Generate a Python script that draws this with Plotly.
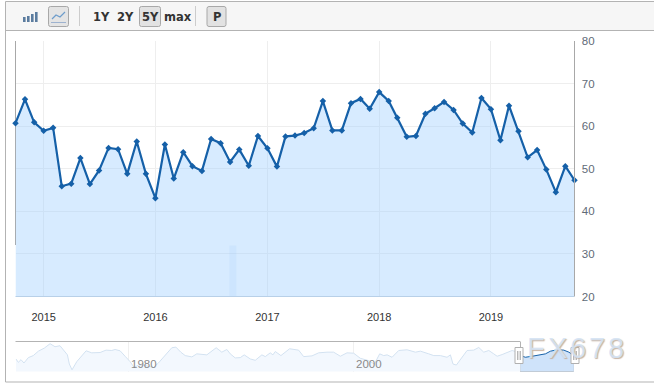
import plotly.graph_objects as go
import pandas as pd

W, H = 654, 383

dates = pd.date_range("2014-10-01", "2019-10-01", freq="MS").strftime("%Y-%m-%d").tolist()
values = [60.7, 66.3, 60.9, 58.9, 59.6, 45.9, 46.5, 52.5, 46.4, 49.6, 54.9, 54.6, 48.8,
          56.4, 48.8, 43.1, 55.7, 47.7, 53.9, 50.6, 49.5, 57.0, 56.0, 51.6, 54.5, 50.7,
          57.7, 54.8, 50.5, 57.6, 57.8, 58.4, 59.5, 65.9, 59.0, 59.0, 65.4, 66.4, 64.1,
          68.0, 65.9, 62.0, 57.5, 57.7, 62.9, 64.2, 65.7, 63.8, 60.6, 58.5, 66.6, 64.0,
          56.7, 64.8, 58.8, 52.7, 54.4, 49.8, 44.5, 50.6, 47.3]

year_labels = ["2015", "2016", "2017", "2018", "2019"]
year_ticks = ["2015-01-01", "2016-01-01", "2017-01-01", "2018-01-01", "2019-01-01"]
y_ticks = [20, 30, 40, 50, 60, 70, 80]

nav_years = [1970.04, 1970.25, 1970.49, 1970.75, 1971.14, 1971.58, 1972.03, 1972.56, 1973.07, 1973.51,
             1973.95, 1974.31, 1974.61, 1974.78, 1975.02, 1975.44, 1975.88, 1976.27, 1976.77, 1977.51,
             1978.04, 1978.55, 1978.84, 1979.29, 1979.73, 1980.18, 1980.53, 1980.92, 1981.36, 1981.81,
             1982.25, 1982.69, 1983.29, 1983.88, 1984.24, 1984.68, 1985.07, 1985.66, 1986.10, 1986.99,
             1987.82, 1988.32, 1988.77, 1989.07, 1989.51, 1989.96, 1990.31, 1990.85, 1991.29, 1991.88,
             1992.18, 1992.62, 1992.86, 1993.07, 1993.57, 1994.34, 1995.14, 1995.59, 1996.33, 1996.92,
             1997.66, 1998.25, 1998.85, 1999.44, 2000.03, 2000.62, 2001.37, 2001.87, 2002.34, 2002.70,
             2003.00, 2003.44, 2004.03, 2004.77, 2005.51, 2005.96, 2006.70, 2007.14, 2007.73, 2008.32,
             2008.62, 2008.85, 2009.15, 2009.65, 2010.10, 2010.69, 2011.14, 2011.58, 2012.03, 2012.47,
             2012.77, 2013.21, 2013.80, 2014.10, 2014.40, 2014.84]
nav_values = [44.7, 38.0, 43.3, 36.7, 47.3, 51.3, 60.0, 66.0, 74.7, 68.7,
              70.7, 61.3, 52.7, 34.7, 23.3, 39.3, 51.3, 60.7, 56.7, 57.3,
              62.0, 61.3, 63.3, 60.7, 50.0, 39.3, 28.0, 32.7, 32.7, 30.0,
              28.0, 36.7, 51.3, 66.7, 68.0, 58.0, 51.3, 48.7, 54.7, 52.7,
              66.7, 58.0, 63.3, 54.7, 46.7, 47.3, 52.7, 44.7, 42.0, 52.7,
              49.3, 56.7, 52.7, 59.3, 51.3, 64.7, 62.0, 49.3, 50.7, 56.7,
              58.0, 58.0, 50.0, 56.7, 56.0, 46.0, 41.3, 34.7, 54.7, 51.3,
              52.7, 48.0, 61.3, 62.7, 58.0, 60.0, 54.7, 51.3, 51.3, 48.0,
              52.7, 34.7, 32.7, 48.0, 61.3, 62.0, 67.3, 58.0, 61.3, 54.7,
              50.0, 53.3, 58.0, 61.3, 59.3, 51.3]
sel_years = [2014.84, 2015.28, 2015.88, 2016.47, 2017.06, 2017.51, 2018.10, 2018.69, 2019.14, 2019.58]
sel_values = [51.3, 48.0, 50.0, 52.7, 54.7, 60.0, 62.7, 62.0, 58.0, 51.3]
nav_labels = [1980, 2000]
range_buttons = ["1Y", "2Y", "5Y", "max", "P"]
watermark = "FX678"

FONT = "Liberation Sans"
BTN = "DejaVu Sans"


def px(x):
    return x / W


def py(y):
    return 1 - y / H


shapes = []


def rect(x0, y0, x1, y1, fill="rgba(0,0,0,0)", line="rgba(0,0,0,0)", lw=1, layer="below", radius=0):
    if radius:
        r = radius
        path = (f"M{px(x0 + r)},{py(y0)} L{px(x1 - r)},{py(y0)} Q{px(x1)},{py(y0)} {px(x1)},{py(y0 + r)} "
                f"L{px(x1)},{py(y1 - r)} Q{px(x1)},{py(y1)} {px(x1 - r)},{py(y1)} "
                f"L{px(x0 + r)},{py(y1)} Q{px(x0)},{py(y1)} {px(x0)},{py(y1 - r)} "
                f"L{px(x0)},{py(y0 + r)} Q{px(x0)},{py(y0)} {px(x0 + r)},{py(y0)} Z")
        shapes.append(dict(type="path", xref="paper", yref="paper", path=path, fillcolor=fill,
                           line=dict(color=line, width=lw), layer=layer))
    else:
        shapes.append(dict(type="rect", xref="paper", yref="paper", x0=px(x0), x1=px(x1), y0=py(y0), y1=py(y1),
                           fillcolor=fill, line=dict(color=line, width=lw), layer=layer))


def hline(x0, y0, x1, y1, color="#b3b3b3", lw=1, layer="below"):
    shapes.append(dict(type="line", xref="paper", yref="paper", x0=px(x0), x1=px(x1), y0=py(y0), y1=py(y1),
                       line=dict(color=color, width=lw), layer=layer))


# frame and toolbar
rect(5.5, 1.5, 670, 382, line="#b3b3b3", lw=1)
rect(6, 2, 670, 30, fill="#f6f6f6")
hline(5.5, 30.5, 670, 30.5)
# toolbar buttons
rect(48.5, 6.5, 68.5, 26.5, fill="#e4e4e4", line="#a8a8a8", radius=2)
rect(139.5, 6.5, 160.5, 26.5, fill="#e2e2e2", line="#a8a8a8", radius=2)
rect(207, 6.5, 226, 26.5, fill="#e2e2e2", line="#a8a8a8", radius=2)
hline(79.5, 6, 79.5, 26, "#cccccc")
hline(195.5, 6, 195.5, 26, "#cccccc")
# bar icon
for bx, by in [(23, 17), (27, 16), (31, 14), (35, 12)]:
    rect(bx, by, bx + 2.6, 22, fill="#5b7c9f")
# line icon
hline(51, 22.5, 66, 22.5, "#9db2cf", 1)
shapes.append(dict(type="path", xref="paper", yref="paper",
                   path=f"M{px(52)},{py(19)} L{px(56)},{py(15)} L{px(60)},{py(17)} L{px(65)},{py(12)}",
                   line=dict(color="#6d9ccb", width=1.2), layer="below"))
# main axis side lines
hline(15.5, 41, 15.5, 245, "#a8a8a8")
hline(574.5, 41, 574.5, 296.5, "#a8a8a8", layer="above")
hline(15.5, 296.5, 574, 296.5, "#b8d0e8", layer="above")
# navigator outline
hline(15.5, 341.5, 520, 341.5)
hline(520.5, 341.5, 520.5, 371.5)
hline(520, 371.5, 573.5, 371.5)
hline(573.5, 341.5, 573.5, 371.5)
for hx in (519, 575):
    rect(hx - 4, 347.5, hx + 4, 363.5, fill="#ffffff", line="#b0b0b0", layer="above")
    hline(hx - 1.2, 351, hx - 1.2, 360, "#999999", layer="above")
    hline(hx + 1.2, 351, hx + 1.2, 360, "#999999", layer="above")

annotations = []


def text(x, y, s, size=12, color="#333333", family=BTN, weight="bold", shadow=None):
    f = dict(size=size, color=color, family=family, weight=weight)
    if shadow:
        f["shadow"] = shadow
    annotations.append(dict(xref="paper", yref="paper", x=px(x), y=py(y), text=s, showarrow=False,
                            xanchor="center", yanchor="middle", font=f))


for s, bx in zip(range_buttons, [101, 125, 150, 178, 216.5]):
    text(bx, 17, s, size=11.5)

for yr in nav_labels:
    annotations.append(dict(xref="x2", yref="paper", x=yr, y=py(364), xshift=16, text=str(yr), showarrow=False,
                            xanchor="center", yanchor="middle",
                            font=dict(size=11.5, color="#8a8a8a", family=FONT)))

for ch, wx in zip(watermark, [536, 557, 577.5, 597, 616]):
    text(wx, 348, ch, size=29, color="rgba(212,227,244,0.9)", family=FONT, weight="normal",
         shadow="1px 1px 1px #c2ac9a")

fig = go.Figure()
# volume-like strip under the series
fig.add_trace(go.Bar(x=["2016-09-10"], y=[32], width=[23 * 86400000], marker=dict(color="rgba(150,190,240,0.16)", line_width=0),
                     showlegend=False, hoverinfo="skip"))
fig.add_trace(go.Scatter(x=dates, y=values, mode="lines+markers", fill="tozeroy",
                         fillcolor="rgba(160,208,255,0.42)",
                         line=dict(color="#1560a8", width=2.2),
                         marker=dict(symbol="diamond", size=5, color="#1560a8"),
                         cliponaxis=False, showlegend=False))
fig.add_trace(go.Scatter(x=nav_years, y=nav_values, xaxis="x2", yaxis="y2", mode="lines", fill="tozeroy",
                         fillcolor="#f3f8fe", line=dict(color="#d3e2f1", width=1), showlegend=False))
fig.add_trace(go.Scatter(x=sel_years, y=sel_values, xaxis="x2", yaxis="y2", mode="lines", fill="tozeroy",
                         fillcolor="#cfe3fa", line=dict(color="#1560a8", width=1), showlegend=False))

fig.update_layout(
    width=W, height=H, margin=dict(l=0, r=0, t=0, b=0, autoexpand=False), paper_bgcolor="#ffffff",
    plot_bgcolor="rgba(0,0,0,0)", shapes=shapes, annotations=annotations, barmode="overlay",
    xaxis=dict(domain=[px(15.5), px(574.5)], type="date", range=["2014-10-01", "2019-10-01"], automargin=False,
               tickmode="array", tickvals=year_ticks, ticktext=year_labels, showgrid=True, gridcolor="#eeeeee",
               gridwidth=1, ticks="outside", ticklen=10, tickcolor="rgba(0,0,0,0)", zeroline=False, showline=False,
               tickfont=dict(family=FONT, size=11, color="#333333"), anchor="y"),
    yaxis=dict(domain=[py(296.5), py(41)], range=[20, 80], side="right", tickmode="array", tickvals=y_ticks,
               automargin=False, showgrid=True, gridcolor="#eeeeee", gridwidth=1, ticks="outside", ticklen=4,
               tickcolor="rgba(0,0,0,0)", zeroline=False, showline=False,
               tickfont=dict(family=FONT, size=11.5, color="#5f6b78"), anchor="x"),
    xaxis2=dict(domain=[px(15.5), px(574.5)], range=[1970, 2019.64], tickmode="array", tickvals=nav_labels,
                automargin=False, showticklabels=False, showgrid=True, gridcolor="#f0f0f0", zeroline=False,
                showline=False, ticks="", anchor="y2"),
    yaxis2=dict(domain=[py(371.5), py(342)], range=[20, 78], automargin=False, showticklabels=False, showgrid=False,
                zeroline=False, showline=False, ticks="", anchor="x2"),
)

fig.write_html("out.html", config={"displayModeBar": False},
               post_script="document.body.style.margin='0';document.documentElement.style.overflow='hidden';document.body.style.overflow='hidden';")
